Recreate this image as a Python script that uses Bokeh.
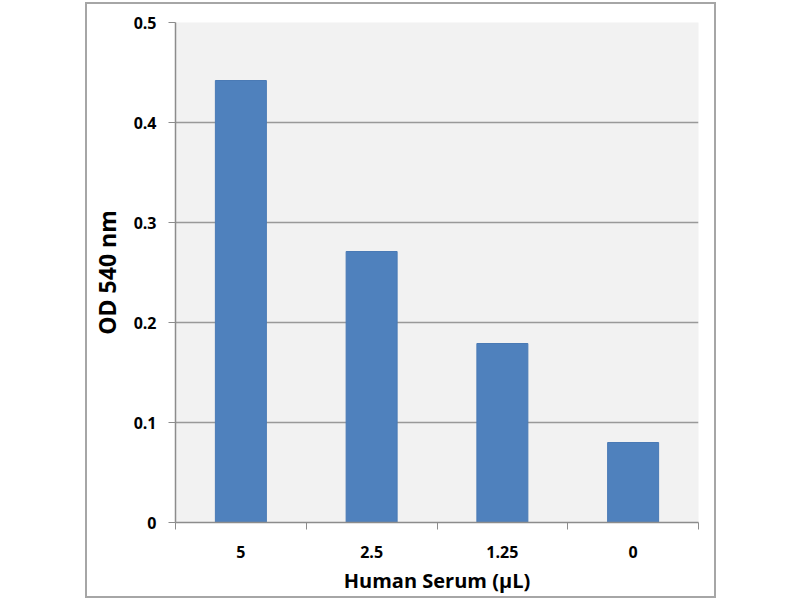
from bokeh.plotting import figure
from bokeh.models import FixedTicker, Range1d
from bokeh.embed import file_html
from bokeh.resources import INLINE

# ---- data ----
categories = ["5", "2.5", "1.25", "0"]
od_values = [0.442, 0.271, 0.179, 0.080]
y_ticks = [0.0, 0.1, 0.2, 0.3, 0.4, 0.5]
y_tick_labels = ["0", "0.1", "0.2", "0.3", "0.4", "0.5"]
x_label = "Human Serum (µL)"
y_label = "OD 540 nm"

x_pos = [i + 0.5 for i in range(len(categories))]
x_bounds = [float(i) for i in range(len(categories) + 1)]

FONT = "Open Sans"
AXIS_GRAY = "#8c8c8c"

p = figure(
    frame_width=523, frame_height=500,
    min_border_left=87, min_border_right=16,
    min_border_top=18, min_border_bottom=73,
    x_range=Range1d(0, len(categories)), y_range=Range1d(0, 0.5),
    output_backend="svg", toolbar_location=None,
    margin=(2, 0, 0, 85),
)
p.styles = {"border": "2px solid #a6a6a6"}
p.background_fill_color = "#f2f2f2"
p.border_fill_color = "white"
p.outline_line_color = None

p.vbar(x=x_pos, top=od_values, width=0.39, bottom=0,
       fill_color="#4f81bd", line_color="#4a7ab5", line_width=1)

# x axis: labels at centers, ticks at category boundaries (minor ticks)
xa = p.xaxis[0]
xa.ticker = FixedTicker(ticks=x_pos, minor_ticks=x_bounds)
xa.major_label_overrides = {x: c for x, c in zip(x_pos, categories)}
xa.major_tick_out = 0
xa.major_tick_in = 0
xa.minor_tick_out = 7
xa.minor_tick_in = 0
xa.minor_tick_line_color = AXIS_GRAY
xa.axis_line_color = AXIS_GRAY
xa.axis_line_width = 1.5
xa.major_label_standoff = 16
xa.major_label_text_font = FONT
xa.major_label_text_font_style = "bold"
xa.major_label_text_font_size = "16px"
xa.major_label_text_color = "black"
xa.axis_label = x_label
xa.axis_label_text_font = FONT
xa.axis_label_text_font_style = "bold"
xa.axis_label_text_font_size = "20px"
xa.axis_label_text_color = "black"
xa.axis_label_standoff = 6

ya = p.yaxis[0]
ya.ticker = FixedTicker(ticks=y_ticks, minor_ticks=[])
ya.major_label_overrides = {t: l for t, l in zip(y_ticks, y_tick_labels)}
ya.major_tick_out = 7
ya.major_tick_in = 0
ya.major_tick_line_color = AXIS_GRAY
ya.axis_line_color = AXIS_GRAY
ya.axis_line_width = 1.5
ya.major_label_standoff = 12
ya.major_label_text_font = FONT
ya.major_label_text_font_style = "bold"
ya.major_label_text_font_size = "16px"
ya.major_label_text_color = "black"
ya.axis_label = y_label
ya.axis_label_text_font = FONT
ya.axis_label_text_font_style = "bold"
ya.axis_label_text_font_size = "23px"
ya.axis_label_text_color = "black"
ya.axis_label_standoff = 8

p.xgrid.visible = False
p.ygrid.ticker = FixedTicker(ticks=y_ticks)
p.ygrid.grid_line_color = "#999999"
p.ygrid.grid_line_width = 1.5

open("out.html", "w").write(file_html(p, INLINE))
